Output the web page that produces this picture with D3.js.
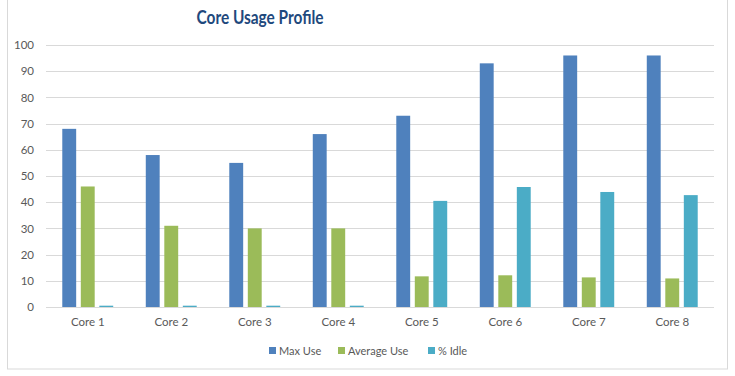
<!DOCTYPE html>
<html><head><meta charset="utf-8">
<script src="https://cdn.jsdelivr.net/npm/d3@7"></script>
<style>body{margin:0;background:#fff}svg{display:block}</style>
</head><body>
<script>
const categories = ["Core 1","Core 2","Core 3","Core 4","Core 5","Core 6","Core 7","Core 8"];
const seriesNames = ["Max Use","Average Use","% Idle"];
const maxUse = [68,58,55,66,73,93,96,96];
const avgUse = [46,31,30,30,11.7,12.1,11.3,10.9];
const idle = [0.5,0.5,0.5,0.5,40.5,45.8,43.9,42.7];
const yTicks = [0,10,20,30,40,50,60,70,80,90,100];
const colors = ["#4F81BD","#9BBB59","#4BACC6"];
const series = [maxUse, avgUse, idle];

const W=735,H=376;
const svg=d3.select("body").append("svg").attr("width",W).attr("height",H);
const font="Lato, 'Open Sans', sans-serif";
svg.append("rect").attr("x",7.5).attr("y",-1).attr("width",720).attr("height",370)
  .attr("fill","#fff").attr("stroke","#d9d9d9");

const x0=d3.scaleBand().domain(categories).range([46,714]).paddingInner(0.39).paddingOuter(0.195);
const x1=d3.scaleBand().domain(seriesNames).range([0,x0.bandwidth()]).paddingInner(0.25);
const y=d3.scaleLinear().domain([0,100]).range([307,45]);

const grid=svg.append("g");
grid.selectAll("line").data(yTicks).join("line")
  .attr("x1",46).attr("x2",714).attr("y1",d=>Math.round(y(d))+0.5).attr("y2",d=>Math.round(y(d))+0.5)
  .attr("stroke","#d9d9d9").attr("stroke-width",1);

const yAxis=d3.axisLeft(y).tickValues(yTicks).tickSize(0).tickPadding(0);
const ya=svg.append("g").attr("transform","translate(34,0)").call(yAxis);
ya.select(".domain").remove();
ya.selectAll("text").attr("font-family",font).attr("font-size",11.5).attr("fill","#595959");

const xAxis=d3.axisBottom(x0).tickSize(0).tickPadding(0);
const xa=svg.append("g").attr("transform","translate(0,318)").call(xAxis);
xa.select(".domain").remove();
xa.selectAll("text").attr("font-family",font).attr("font-size",11.5).attr("fill","#595959");

series.forEach((vals,si)=>{
  svg.append("g").selectAll("rect").data(vals).join("rect")
    .attr("x",(d,i)=>x0(categories[i])+x1(seriesNames[si]))
    .attr("width",x1.bandwidth())
    .attr("y",d=>y(d)).attr("height",d=>y(0)-y(d))
    .attr("fill",colors[si]);
});

svg.append("text").attr("x",260).attr("y",24).attr("text-anchor","middle")
  .attr("font-family",font).attr("font-size",19).attr("font-weight",700).attr("fill","#1F497D")
  .attr("textLength",127).attr("lengthAdjust","spacingAndGlyphs")
  .text("Core Usage Profile");

const legendX=[269,338,428];
const lg=svg.append("g");
seriesNames.forEach((n,i)=>{
  lg.append("rect").attr("x",legendX[i]).attr("y",347).attr("width",7).attr("height",7).attr("fill",colors[i]);
  lg.append("text").attr("x",legendX[i]+10).attr("y",354.5).attr("font-family",font).attr("font-size",11)
    .attr("fill","#595959").text(n);
});
</script>
</body></html>
